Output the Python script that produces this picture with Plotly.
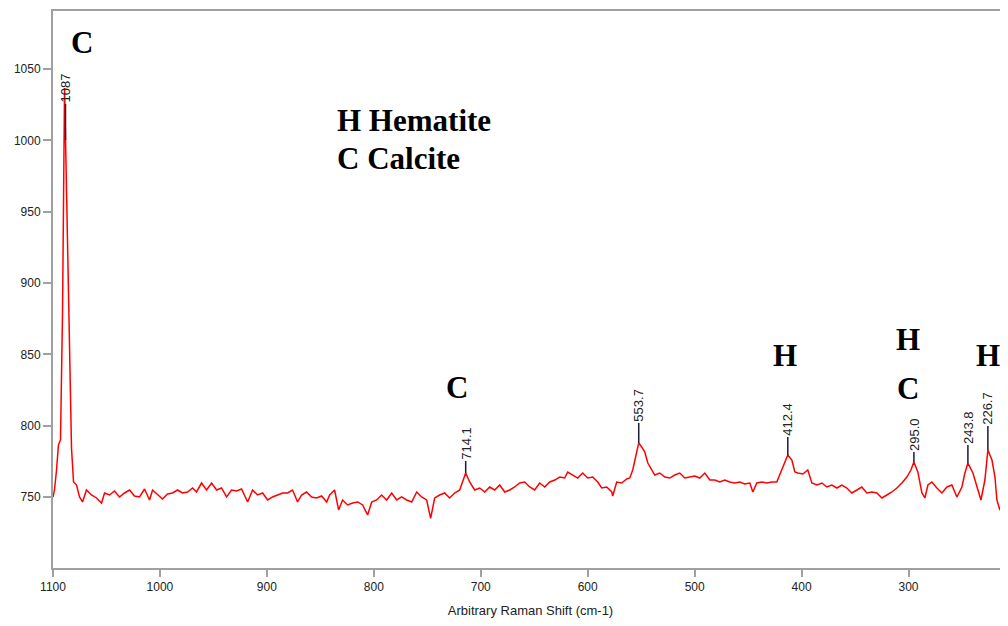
import plotly.graph_objects as go

# Raman spectrum (shift in cm-1, intensity in arbitrary units)
shift = [
    1100.0, 1098.6, 1096.7, 1094.9, 1093.0, 1091.1, 1089.2, 1088.3, 1086.4, 1084.6,
    1082.7, 1080.8, 1078.0, 1075.2, 1072.4, 1068.7, 1064.0, 1059.3, 1054.6, 1051.8,
    1047.1, 1042.5, 1037.8, 1033.1, 1028.4, 1023.8, 1019.1, 1014.4, 1009.7, 1006.9,
    1002.2, 997.6, 992.9, 988.2, 983.5, 978.9, 974.2, 969.5, 965.8, 961.1,
    956.4, 951.7, 947.0, 942.4, 937.7, 933.0, 928.3, 923.7, 918.0, 913.4,
    908.7, 904.0, 899.3, 894.7, 890.0, 885.3, 880.6, 876.0, 871.3, 867.5,
    862.9, 858.2, 853.5, 848.8, 844.1, 841.3, 836.7, 832.9, 829.2, 824.5,
    819.8, 815.1, 810.5, 805.8, 802.0, 797.4, 792.7, 788.0, 783.3, 778.7,
    774.0, 769.3, 764.6, 759.9, 755.3, 750.6, 746.9, 743.1, 738.4, 733.8,
    729.1, 724.4, 719.7, 716.9, 714.1, 710.4, 705.7, 701.0, 696.3, 691.7,
    687.0, 682.3, 677.6, 672.9, 668.3, 663.6, 658.9, 654.2, 649.6, 644.9,
    640.2, 635.5, 630.8, 626.2, 621.5, 618.7, 614.0, 609.3, 604.7, 600.0,
    595.3, 590.6, 586.9, 582.2, 577.5, 576.6, 572.9, 568.2, 563.5, 560.7,
    557.9, 554.1, 552.3, 549.5, 546.7, 543.8, 540.1, 537.3, 532.6, 527.9,
    523.3, 518.6, 513.9, 509.2, 504.6, 499.9, 495.2, 490.5, 485.8, 481.2,
    476.5, 471.8, 467.1, 462.5, 457.8, 453.1, 448.4, 445.6, 441.9, 437.2,
    432.5, 427.8, 423.2, 419.4, 415.7, 412.9, 409.1, 406.3, 403.5, 398.8,
    394.2, 390.4, 385.7, 381.1, 376.4, 371.7, 367.0, 362.4, 357.7, 353.0,
    348.3, 343.7, 339.0, 334.3, 329.6, 324.9, 320.3, 315.6, 310.9, 306.2,
    301.6, 297.8, 295.0, 291.3, 287.5, 284.7, 281.9, 278.2, 273.5, 268.8,
    264.1, 259.5, 254.8, 250.1, 247.3, 244.5, 239.8, 236.1, 232.3, 228.6,
    225.8, 222.0, 219.2, 217.4, 214.6, 211.7, 208.0, 205.0,
]
intensity = [
    750.0, 754.9, 768.9, 786.5, 790.0, 879.0, 1036.8, 1000.4, 944.3, 848.2,
    784.4, 760.5, 758.4, 750.0, 746.5, 754.9, 751.4, 749.3, 745.8, 752.8,
    751.4, 754.2, 750.0, 752.8, 754.9, 750.7, 750.0, 755.6, 747.9, 754.9,
    751.4, 748.6, 752.1, 752.8, 754.9, 752.8, 753.5, 756.3, 753.5, 759.8,
    754.9, 759.8, 754.9, 756.3, 750.0, 754.9, 754.2, 755.6, 746.5, 754.9,
    751.4, 752.8, 747.9, 750.0, 751.4, 752.8, 752.8, 754.9, 746.5, 751.4,
    753.5, 750.0, 749.3, 750.7, 746.5, 751.4, 754.9, 740.9, 747.9, 744.4,
    745.8, 746.5, 744.4, 737.4, 746.5, 747.9, 751.4, 747.9, 752.8, 747.9,
    750.0, 747.9, 746.5, 753.5, 750.0, 747.9, 735.0, 749.3, 751.4, 752.8,
    749.3, 752.8, 754.9, 760.5, 766.8, 760.5, 754.9, 756.3, 753.5, 757.0,
    754.9, 758.4, 753.5, 754.9, 757.0, 759.8, 760.5, 757.0, 754.9, 759.8,
    757.0, 760.5, 761.9, 764.0, 763.3, 767.5, 765.4, 763.3, 766.8, 763.3,
    764.0, 760.5, 756.3, 757.0, 753.5, 750.7, 760.5, 759.8, 762.6, 763.3,
    768.9, 780.9, 787.9, 785.1, 781.6, 773.8, 768.9, 765.4, 766.8, 764.0,
    763.3, 765.4, 766.8, 763.3, 764.0, 764.7, 763.3, 766.8, 761.9, 761.9,
    760.5, 761.9, 760.5, 759.8, 760.5, 759.1, 759.8, 753.5, 759.8, 760.5,
    759.8, 760.5, 760.5, 767.5, 774.5, 779.5, 775.9, 767.5, 766.8, 766.1,
    768.9, 759.8, 758.4, 759.8, 757.0, 758.4, 756.3, 758.4, 756.3, 752.8,
    754.9, 757.0, 752.8, 753.5, 752.8, 749.3, 751.4, 753.5, 756.3, 759.8,
    764.0, 768.9, 774.5, 767.5, 752.8, 749.3, 758.4, 760.5, 756.3, 752.8,
    757.0, 758.4, 750.0, 757.0, 766.8, 773.8, 766.8, 757.0, 747.9, 761.9,
    783.0, 775.9, 764.0, 747.9, 740.9, 747.9, 754.9, 758.4,
]

# Peak markers (position on the spectrum and printed label)
peak_shift = [1088.3, 714.1, 552.3, 412.9, 295.0, 244.5, 225.8]
peak_label = ["1087", "714.1", "553.7", "412.4", "295.0", "243.8", "226.7"]

# Mineral letters
mineral_text = ["C", "C", "H", "H", "C", "H"]
mineral_x = [1073.3, 722.5, 415.7, 300.6, 300.6, 225.8]
mineral_y = [1068.4, 827.1, 848.9, 860.1, 826.4, 848.9]

legend_lines = ["H Hematite", "C Calcite"]
legend_x = 836.7
legend_y = [1013.7, 987.7]

x_ticks = [1100, 1000, 900, 800, 700, 600, 500, 400, 300]
y_ticks = [750, 800, 850, 900, 950, 1000, 1050]

# label offsets in pixels (style)
label_offset = [-52, -30, -38, -36, -28, -36, -42]

fig = go.Figure()
fig.add_trace(go.Scatter(
    x=shift, y=intensity, mode="lines",
    line=dict(color="#ff0000", width=1.5), showlegend=False,
    hoverinfo="skip",
))

annotations = []
for px, lab, off in zip(peak_shift, peak_label, label_offset):
    i = min(range(len(shift)), key=lambda k: abs(shift[k] - px))
    annotations.append(dict(
        x=shift[i], y=intensity[i], xref="x", yref="y",
        text=lab, textangle=-90, showarrow=True, arrowhead=0,
        arrowwidth=1.5, arrowcolor="#1c1c3c", ax=0, ay=off,
        font=dict(family="Arial, Liberation Sans", size=13, color="#222222"),
        borderpad=1,
    ))

big_font = dict(family="Times New Roman, Liberation Serif, serif", size=31, color="#000000")
for t, mx, my in zip(mineral_text, mineral_x, mineral_y):
    annotations.append(dict(
        x=mx, y=my, xref="x", yref="y", text="<b>%s</b>" % t,
        showarrow=False, font=big_font, xanchor="center", yanchor="middle",
    ))
for t, ly in zip(legend_lines, legend_y):
    annotations.append(dict(
        x=legend_x, y=ly, xref="x", yref="y", text="<b>%s</b>" % t,
        showarrow=False, font=big_font, xanchor="left", yanchor="middle",
    ))

axis_color = "#a0a0a0"
tick_font = dict(family="Arial, Liberation Sans", size=12, color="#222222")
fig.update_layout(
    width=1000, height=610,
    margin=dict(l=45, r=0, t=3, b=50),
    paper_bgcolor="white", plot_bgcolor="white",
    annotations=annotations,
    xaxis=dict(
        range=[1100, 207], autorange=False,
        tickvals=x_ticks, ticktext=[str(v) for v in x_ticks],
        showgrid=False, zeroline=False,
        showline=True, linecolor=axis_color, linewidth=2, mirror=True,
        ticks="outside", ticklen=7, tickwidth=1.5, tickcolor=axis_color,
        tickfont=tick_font,
        title=dict(text="Arbitrary Raman Shift (cm-1)", standoff=14,
                   font=dict(family="Arial, Liberation Sans", size=13, color="#222222")),
    ),
    yaxis=dict(
        range=[700.2, 1090.8], autorange=False,
        tickvals=y_ticks, ticktext=[str(v) for v in y_ticks],
        showgrid=False, zeroline=False,
        showline=True, linecolor=axis_color, linewidth=2,
        ticks="outside", ticklen=8, tickwidth=1.5, tickcolor=axis_color,
        tickfont=tick_font,
    ),
)

fig.write_html("out.html")
